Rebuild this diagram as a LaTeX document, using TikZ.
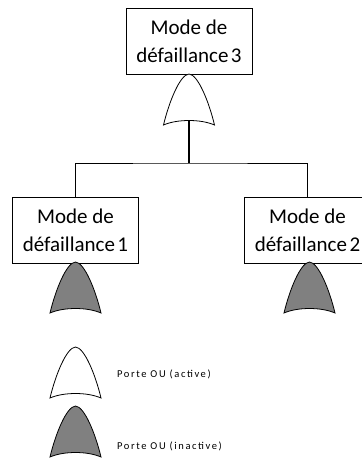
\documentclass[tikz,border=0pt]{standalone}
\usepackage{fontspec}
\setmainfont{Carlito}
\tikzset{
    modebox/.style={draw, fill=white, line width=0.8pt, minimum width=126pt, minimum height=66pt, inner sep=0pt, align=center, font=\fontsize{21}{28}\selectfont},
    legend/.style={anchor=west, inner sep=0pt, font=\addfontfeature{LetterSpace=15}\fontsize{10.5}{12}\selectfont},
    gate/.pic={
        \draw[line width=0.8pt, pic actions] (0,0) .. controls (9,0.5) and (20,28) .. (25.5,51)
            .. controls (12,45) and (-12,45) .. (-25.5,51)
            .. controls (-20,28) and (-9,0.5) .. (0,0) -- cycle;
        \coordinate (-notch) at (0,46.5);
    }
}
\begin{document}
\begin{tikzpicture}[x=1pt, y=-1pt]
    \useasboundingbox (0,0) rectangle (362,459);
    \clip (0,0) rectangle (362,459);

    \node[modebox] (m3) at (189,41) {Mode de\\défaillance\hspace{2.5pt}3};
    \node[modebox] (m1) at (75.5,230) {Mode de\\défaillance\hspace{2.5pt}1};
    \node[modebox] (m2) at (307.5,230) {Mode de\\défaillance\hspace{2.5pt}2};

    \pic[fill=white] (g3) at (189,74) {gate};
    \pic[fill=gray] (g1) at (75.5,262) {gate};
    \pic[fill=gray] (g2) at (309.5,262) {gate};

    \coordinate (bus) at (189,163);
    \draw[line width=1.1pt] (g3-notch) -- (bus);
    \draw[line width=0.8pt] (m1.north) |- (bus) -| (m2.north);

    % legend
    \pic[fill=white] (l1) at (75.5,347) {gate};
    \pic[fill=gray] (l2) at (75.5,406) {gate};
    \node[legend] (t1) at (117,374) {Porte OU (active)};
    \node[legend] (t2) at (117,446) {Porte OU (inactive)};
\end{tikzpicture}
\end{document}
